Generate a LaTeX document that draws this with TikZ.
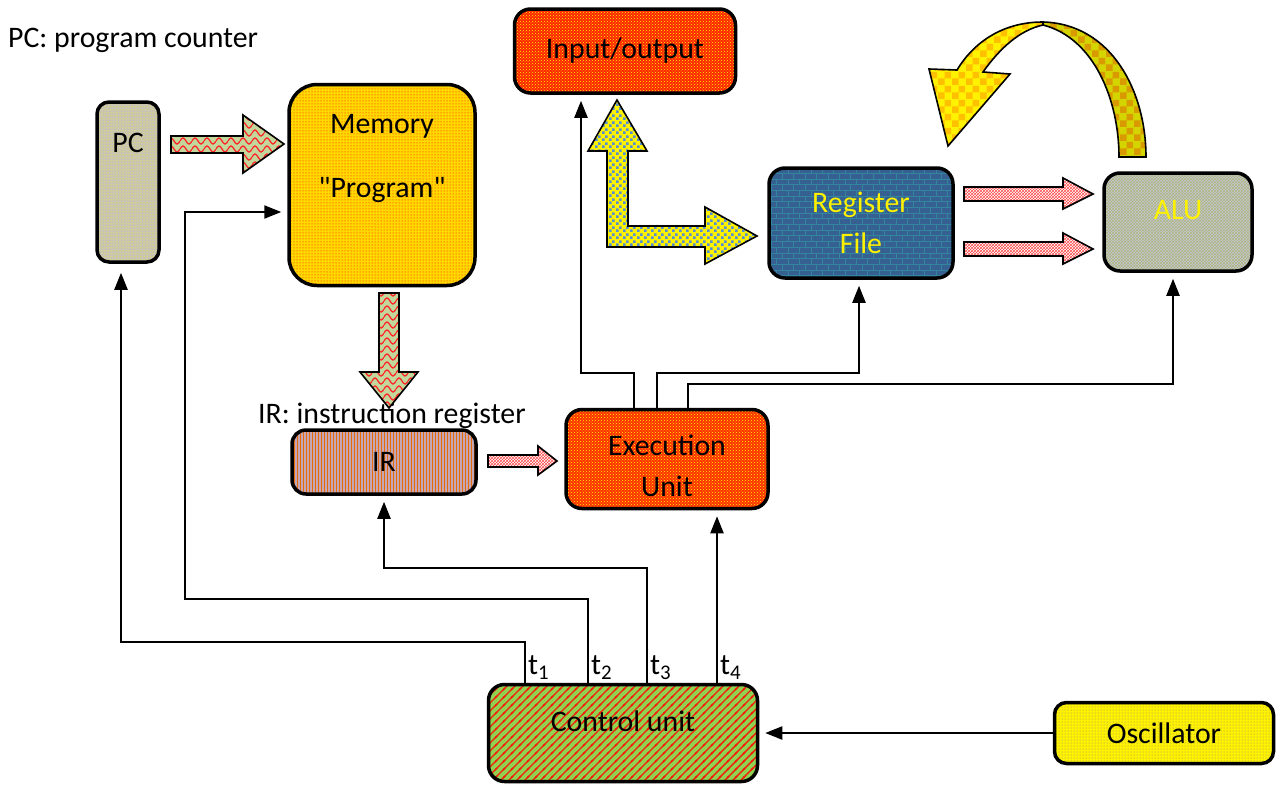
\documentclass[tikz,border=0pt]{standalone}
\usepackage{fontspec}
\setmainfont{Carlito}[Ligatures=TeXOff]
\usetikzlibrary{calc,arrows.meta,patterns,patterns.meta}

\definecolor{pcgray}{HTML}{C8C4B4}
\definecolor{memyel}{HTML}{FFD800}
\definecolor{iored}{HTML}{FF2400}
\definecolor{rfblue}{HTML}{366092}
\definecolor{rfteal}{HTML}{31859C}
\definecolor{alulav}{HTML}{CCC0DA}
\definecolor{alugreen}{HTML}{9BBB59}
\definecolor{irlav}{HTML}{C4A6B4}
\definecolor{irorange}{HTML}{E46C0A}
\definecolor{exred}{HTML}{FF3000}
\definecolor{cugreen}{HTML}{92D050}
\definecolor{arrgreen}{HTML}{C3D69B}
\definecolor{lblue}{HTML}{558ED5}
\definecolor{chkorange}{HTML}{FFC000}
\definecolor{olive}{HTML}{D4D400}
\definecolor{darkorange}{HTML}{D99A00}

\tikzdeclarepattern{
  name=wavy,
  type=uncolored,
  bounding box={(0pt,-2pt) and (12pt,10pt)},
  tile size={(12pt,8pt)},
  code={\draw[line width=1.3pt] (0pt,4pt) sin (3pt,7pt) cos (6pt,4pt) sin (9pt,1pt) cos (12pt,4pt);}
}
\tikzdeclarepattern{
  name=checks,
  type=uncolored,
  bounding box={(0pt,0pt) and (14pt,14pt)},
  tile size={(14pt,14pt)},
  code={\fill (0pt,0pt) rectangle (7pt,7pt) (7pt,7pt) rectangle (14pt,14pt);}
}
\tikzdeclarepattern{
  name=finechecks,
  type=uncolored,
  bounding box={(0pt,0pt) and (7pt,7pt)},
  tile size={(7pt,7pt)},
  code={\fill (0pt,0pt) rectangle (3pt,3pt) (3.5pt,3.5pt) rectangle (6.5pt,6.5pt);}
}
\tikzdeclarepattern{
  name=stripes,
  type=uncolored,
  bounding box={(-1pt,-1pt) and (9pt,9pt)},
  tile size={(8pt,8pt)},
  code={\draw[line width=1.4pt] (-1pt,-1pt) -- (9pt,9pt) (-1pt,7pt) -- (1pt,9pt) (7pt,-1pt) -- (9pt,1pt);}
}

\tikzset{
  box/.style={draw, line width=3.5pt, rounded corners=16pt, inner sep=0pt, align=center},
  sig/.style={line width=2.2pt, -{Triangle[length=17pt,width=13pt]}, shorten >=6pt},
  fat/.style={draw, line width=1.6pt, line join=miter},
  tlbl/.style={anchor=south west, inner sep=2pt},
  pcfill/.style={preaction={fill=pcgray}, pattern=dots, pattern color=yellow},
  memfill/.style={preaction={fill=memyel}, pattern=dots, pattern color=red},
  iofill/.style={preaction={fill=iored}, pattern=crosshatch dots, pattern color=yellow},
  rffill/.style={preaction={fill=rfblue}, pattern=bricks, pattern color=rfteal},
  alufill/.style={preaction={fill=alulav}, pattern=crosshatch, pattern color=alugreen!75!alulav},
  irfill/.style={preaction={fill=irlav}, pattern=vertical lines, pattern color=irorange},
  exfill/.style={preaction={fill=exred}, pattern=crosshatch dots, pattern color=yellow},
  cufill/.style={preaction={fill=cugreen}, pattern=stripes, pattern color=red!85!cugreen},
  oscfill/.style={preaction={fill=yellow}, pattern=dots, pattern color=gray},
  wavefill/.style={preaction={fill=arrgreen}, pattern=wavy, pattern color=red!85},
  zigfill/.style={preaction={fill=white}, pattern=crosshatch, pattern color=red!70},
  lfill/.style={preaction={fill=yellow}, pattern=finechecks, pattern color=lblue},
}

\begin{document}
\begin{tikzpicture}[x=1pt, y=-1pt, font=\fontsize{29.8}{36}\selectfont]
  \useasboundingbox (0,0) rectangle (1277,785);
  % captions
  \node[anchor=west, inner sep=0pt] (pclbl) at (8,40) {PC: program counter};
  \node[anchor=west, inner sep=0pt] (irlbl) at (258,416) {IR: instruction register};

  % blocks
  \node[box, pcfill, rounded corners=12pt, minimum width=62pt, minimum height=160pt] (pc) at (128,182) {};
  \node (pctxt) at ($(pc.north)+(0,43)$) {PC};
  \node[box, memfill, rounded corners=28pt, minimum width=186pt, minimum height=201pt] (mem) at (382,185) {};
  \node[align=center] (memtxt) at ($(mem.north)+(0,76)$) {Memory\\[28pt]"Program"};
  \node[box, iofill, minimum width=221pt, minimum height=84pt] (io) at (625,51) {Input/output};
  \node[box, rffill, text=yellow, minimum width=184pt, minimum height=110pt] (rf) at (861,223) {Register\\[5pt]File};
  \node[box, alufill, minimum width=148pt, minimum height=98pt] (alu) at (1178,222) {};
  \node[text=yellow] (alutxt) at ($(alu.center)+(0,-12)$) {ALU};
  \node[box, irfill, rounded corners=14pt, minimum width=184pt, minimum height=64pt] (ir) at (384,462) {IR};
  \node[box, exfill, minimum width=202pt, minimum height=99pt] (ex) at (667,459) {};
  \node[align=center] (extxt) at ($(ex.center)+(0,7)$) {Execution\\[5pt]Unit};
  \node[box, cufill, minimum width=269pt, minimum height=97pt] (cu) at (623,733) {};
  \node (cutxt) at ($(cu.center)+(0,-12)$) {Control unit};
  \node[box, oscfill, rounded corners=12pt, minimum width=219pt, minimum height=61pt] (osc) at (1164,733) {Oscillator};

  % clock lines
  \draw[sig, shorten >=9pt] ([xshift=-98pt]cu.north) node[tlbl] (t1) {t\textsubscript{1}} |- (121,642) -- ([xshift=-7pt]pc.south);
  \draw[sig] ([xshift=-35pt]cu.north) node[tlbl] (t2) {t\textsubscript{2}} |- (185,599) |- ([yshift=-27pt]mem.west);
  \draw[sig] ([xshift=24pt]cu.north) node[tlbl] (t3) {t\textsubscript{3}} |- (384,568) -- (ir.south);
  \draw[sig] ([xshift=94pt]cu.north) node[tlbl] (t4) {t\textsubscript{4}} -- ([xshift=50pt]ex.south);
  \draw[sig] (osc.west) -- (cu.east);

  % execution unit outputs
  \draw[sig] ([xshift=-33pt]ex.north) |- (581,373) -- ([xshift=-44pt]io.south);
  \draw[sig] ([xshift=-10pt]ex.north) |- (859,373) -- ([xshift=-2pt]rf.south);
  \draw[sig] ([xshift=21pt]ex.north) |- (1173,384) -- ([xshift=-5pt]alu.south);

  % block arrows
  \draw[fat, wavefill] (171,136) -- (243,136) -- (243,115) -- (284,144) -- (243,173) -- (243,153) -- (171,153) -- cycle;
  \draw[fat, wavefill] (379,293) -- (399,293) -- (399,372) -- (418,372) -- (389,408) -- (360,372) -- (379,372) -- cycle;
  \draw[fat, zigfill] (488,455) -- (538,455) -- (538,446) -- (557,461) -- (538,475) -- (538,467) -- (488,467) -- cycle;
  \foreach \yy in {194,249}
    \draw[fat, zigfill] (964,\yy-7) -- (1063,\yy-7) -- (1063,\yy-16) -- (1093,\yy) -- (1063,\yy+15) -- (1063,\yy+7) -- (964,\yy+7) -- cycle;
  \draw[fat, lfill] (617,100) -- (647,151) -- (628,151) -- (628,226) -- (705,226) -- (705,207) -- (757,236) -- (705,264) -- (705,247) -- (607,247) -- (607,151) -- (588,151) -- cycle;

  % curved arrow over the ALU
  \draw[fat, preaction={fill=olive}, pattern=checks, pattern color=darkorange]
    (1043,22) .. controls (1112,24) and (1146,92) .. (1146,157) -- (1119,157)
    .. controls (1119,100) and (1094,38) .. (1043,25) -- cycle;
  \draw[fat, preaction={fill=yellow}, pattern=checks, pattern color=chkorange]
    (1043,22) .. controls (1000,22) and (972,45) .. (957,70) -- (929,69) -- (948,146)
    -- (1010,74) -- (983,72) .. controls (1000,48) and (1020,30) .. (1043,25) -- cycle;
\end{tikzpicture}
\end{document}
